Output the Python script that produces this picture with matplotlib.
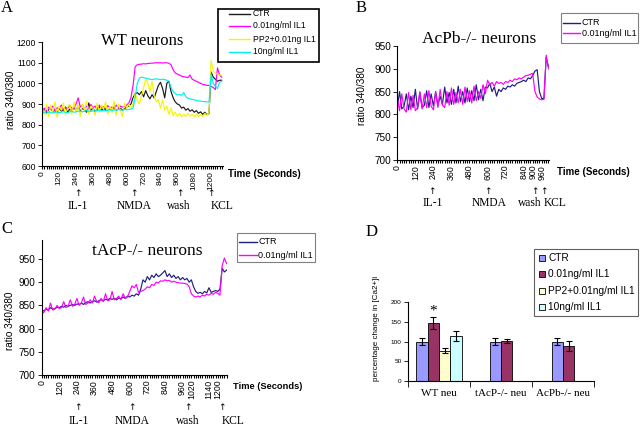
import numpy as np
import matplotlib
matplotlib.use('Agg')
import matplotlib.pyplot as plt
from matplotlib.patches import Rectangle
from matplotlib.lines import Line2D

plt.rcParams['font.family'] = ['Liberation Sans', 'DejaVu Sans']
SERIF = ['Liberation Serif', 'DejaVu Serif']
ARROW_FONT = ['DejaVu Sans']

# ---------------- data ----------------
# Panel A: WT neurons (sampled every 15 s)
t_a = list(range(0, 1276, 15))
ctr_a = [865, 875, 858, 872, 880, 862, 870, 855, 878, 866, 872, 885, 860, 875, 868, 882, 870, 890, 865, 878,
         872, 860, 905, 870, 880, 862, 875, 888, 868, 880, 872, 865, 878, 870, 885, 868, 875, 880, 870, 878,
         885, 890, 900, 930, 950, 955, 945, 960, 935, 965, 940, 925, 945, 930, 960, 990, 1005, 975, 930, 1000,
         1010, 960, 930, 910, 900, 895, 880, 885, 870, 878, 865, 872, 860, 868, 855, 862, 850, 860, 848, 855,
         1055, 1030, 1020, 1010, 1015, 1015]
il1_a = [870, 880, 865, 885, 875, 890, 868, 882, 876, 895, 870, 885, 878, 892, 880, 875, 900, 930, 885, 895,
         880, 890, 875, 898, 882, 890, 870, 895, 880, 888, 876, 892, 882, 885, 878, 895, 880, 890, 885, 888,
         895, 905, 930, 990, 1080, 1090, 1092, 1093, 1095, 1094, 1096, 1097, 1098, 1098, 1100, 1099, 1100, 1098, 1100, 1099,
         1097, 1090, 1065, 1050, 1045, 1040, 1035, 1032, 1030, 1028, 1040, 1020, 1015, 1010, 1005, 1000, 995, 993, 990, 990,
         985, 980, 970, 1075, 1040, 1030]
pp2_a = [880, 850, 900, 840, 895, 860, 910, 835, 890, 870, 905, 845, 885, 900, 850, 910, 865, 895, 840, 900,
         870, 915, 850, 890, 880, 845, 905, 860, 895, 875, 910, 850, 890, 860, 915, 845, 900, 870, 840, 905,
         880, 900, 880, 900, 950, 920, 900, 940, 980, 1020, 1000, 960, 1010, 940, 910, 920, 880, 920, 870, 890,
         850, 880, 845, 860, 840, 855, 838, 850, 840, 855, 842, 850, 838, 852, 840, 850, 838, 855, 845, 860,
         1110, 1060, 1050, 1045, 1040, 1040]
ten_a = [858, 860, 855, 862, 858, 856, 860, 862, 858, 860, 863, 860, 858, 862, 865, 860, 862, 866, 864, 862,
         865, 868, 866, 864, 867, 866, 868, 870, 867, 869, 868, 870, 872, 869, 871, 870, 873, 872, 870, 873,
         872, 874, 875, 880, 930, 1000, 1025, 1030, 1028, 1025, 1022, 1020, 1018, 1020, 1022, 1020, 1018, 1020, 1018, 1015,
         1010, 980, 960, 950, 945, 945, 942, 955, 935, 928, 925, 922, 920, 918, 915, 914, 912, 912, 910, 910,
         1045, 1000, 985, 975, 1005, 1010]
names_a = ['CTR', '0.01ng/ml IL1', 'PP2+0.01ng IL1', '10ng/ml IL1']
xticks_a = [0, 120, 240, 360, 480, 600, 720, 840, 960, 1080, 1200]

# Panel B: AcPb-/- neurons
t_b = list(range(0, 1006, 15))
ctr_b = [815, 850, 812, 818, 845, 810, 840, 815, 855, 812, 848, 815, 820, 852, 815, 845, 818, 850, 820, 840,
         822, 860, 825, 848, 822, 855, 825, 862, 828, 850, 825, 858, 828, 852, 830, 865, 832, 855, 830, 860,
         858, 868, 850, 860, 840, 855, 850, 858, 855, 862, 860, 865, 862, 868, 870, 872, 875, 872, 880, 878,
         885, 895, 898, 850, 835, 835, 925, 905]
il1_b = [835, 808, 845, 812, 805, 848, 810, 842, 808, 815, 850, 812, 845, 815, 852, 818, 810, 848, 815, 855,
         820, 815, 850, 820, 858, 822, 848, 825, 855, 822, 860, 828, 852, 825, 862, 830, 850, 835, 865, 845,
         875, 865, 870, 862, 872, 868, 870, 866, 872, 870, 875, 872, 878, 876, 880, 878, 882, 885, 886, 888,
         890, 850, 838, 834, 832, 833, 930, 900]
names_bc = ['CTR', '0.01ng/ml IL1']
xticks_b = [0, 120, 240, 360, 480, 600, 720, 840, 900, 960]

# Panel C: tAcP-/- neurons
t_c = list(range(0, 1261, 15))
ctr_c = [840, 838, 842, 840, 845, 842, 843, 846, 845, 848, 846, 850, 848, 850, 852, 850, 853, 852, 855, 852,
         856, 858, 855, 858, 860, 857, 860, 862, 860, 863, 862, 865, 863, 865, 862, 866, 864, 868, 865, 870,
         868, 872, 870, 875, 872, 885, 905, 900, 912, 905, 915, 910, 918, 912, 915, 920, 925, 912, 918, 910,
         915, 908, 912, 905, 910, 905, 908, 900, 905, 890, 880, 876, 878, 875, 880, 877, 888, 878, 880, 882,
         880, 885, 930, 922, 926]
il1_c = [832, 835, 845, 838, 855, 840, 842, 850, 843, 845, 858, 845, 848, 862, 848, 852, 865, 850, 855, 868,
         852, 855, 862, 855, 870, 858, 856, 865, 858, 875, 860, 862, 880, 862, 865, 870, 862, 875, 865, 868,
         880, 892, 888, 895, 878, 880, 882, 885, 890, 888, 895, 893, 900, 898, 903, 902, 905, 903, 904, 900,
         902, 900, 899, 898, 898, 897, 896, 890, 875, 870, 868, 870, 868, 872, 870, 874, 872, 876, 874, 878,
         876, 872, 935, 952, 940]
xticks_c = [0, 120, 240, 360, 480, 600, 720, 840, 960, 1020, 1140, 1200]

events = ['IL-1', 'NMDA', 'wash', 'KCL']

# Panel D: percentage change in [Ca2+]i
groups_d = ['WT neu', 'tAcP-/- neu', 'AcPb-/- neu']
names_d = ['CTR', '0.01ng/ml IL1', 'PP2+0.01ng/ml IL1', '10ng/ml IL1']
wt_mean = [100, 147, 77, 114]
wt_err = [10, 15, 7, 13]
tacp_mean = [100, 101]
tacp_err = [9, 6]
acpb_mean = [100, 89]
acpb_err = [10, 12]

# ---------------- layout helpers ----------------
W, H = 640, 428
fig = plt.figure(figsize=(6.4, 4.28), dpi=100)


def add_ax(x0, y0, x1, y1):
    ax = fig.add_axes([x0 / W, 1 - y1 / H, (x1 - x0) / W, (y1 - y0) / H])
    for s in ('top', 'right'):
        ax.spines[s].set_visible(False)
    for s in ('left', 'bottom'):
        ax.spines[s].set_linewidth(0.8)
    ax.patch.set_alpha(0)
    return ax


def ftext(x, y, s, **kw):
    return fig.text(x / W, 1 - y / H, s, **kw)


def legend_lines(box, ys, hx, tx, labels, colors, fs, ec='black', lw=1.0):
    x0, y0, x1, y1 = box
    fig.patches.append(Rectangle((x0 / W, 1 - y1 / H), (x1 - x0) / W, (y1 - y0) / H,
                                 transform=fig.transFigure, fill=True, facecolor='white',
                                 edgecolor=ec, linewidth=lw, zorder=5))
    for y, lab, c in zip(ys, labels, colors):
        fig.lines.append(Line2D([hx[0] / W, hx[1] / W], [1 - y / H, 1 - y / H],
                                transform=fig.transFigure, color=c, linewidth=1.0, zorder=6))
        ftext(tx, y, lab, fontsize=fs, ha='left', va='center', zorder=6)


def trace_axis(ax, t, xticks, ylo, yhi, ystep, ylab_fs, xlab_fs):
    ax.set_yticks(list(range(ylo, yhi + 1, ystep)))
    ax.set_xticks(xticks)
    ax.set_xticklabels([str(v) for v in xticks], rotation=90)
    ax.set_xticks(t, minor=True)
    ax.tick_params(axis='y', direction='out', length=3, width=0.6, labelsize=ylab_fs, pad=1.5)
    ax.tick_params(axis='x', which='major', direction='out', length=2.5, width=0.8,
                   labelsize=xlab_fs, pad=1)
    ax.tick_params(axis='x', which='minor', direction='out', length=2.5, width=0.8)


def event_marks(xs_arrow, xs_label, y_arrow, y_label):
    for xa, xl, ev in zip(xs_arrow, xs_label, events):
        ftext(xa, y_arrow, '\u2191', fontsize=6.5, family=ARROW_FONT, ha='center', va='center')
        ftext(xl, y_label, ev, fontsize=8.3, family=SERIF, ha='center', va='center')


# ---------------- Panel A ----------------
axA = add_ax(42.3, 42, 223.1, 166)
cols_a = ['#1a1a1a', '#ff00ff', '#f5f500', '#00f0f0']
for vals, c in zip([ctr_a, il1_a, pp2_a, ten_a], cols_a):
    axA.plot(t_a, vals, color=c, linewidth=0.85)
axA.set_xlim(0, 1285)
axA.set_ylim(600, 1200)
trace_axis(axA, t_a, xticks_a, 600, 1200, 100, 6.2, 6.0)
ftext(7, 8, 'A', fontsize=12, family=SERIF, ha='center', va='center')
ftext(142, 41, 'WT neurons', fontsize=12, family=SERIF, ha='center', va='center')
ftext(11, 100, 'ratio 340/380', fontsize=7.2, rotation=90, ha='center', va='center')
ftext(228, 174, 'Time (Seconds)', fontsize=7, weight='bold', ha='left', va='center')
event_marks([77.7, 133.7, 180, 211], [77.5, 134, 179, 221.7], 194, 206)
legend_lines((218, 9, 319, 62), [14, 25.5, 39, 51.7], (229, 250), 252.7,
             names_a, cols_a, 6.2, ec='black', lw=1.2)

# ---------------- Panel B ----------------
axB = add_ax(397.3, 46, 549.2, 160)
cols_bc = ['#1f1f80', '#ff00ff']
for vals, c in zip([ctr_b, il1_b], cols_bc):
    axB.plot(t_b, vals, color=c, linewidth=0.85)
axB.set_xlim(0, 1010)
axB.set_ylim(700, 950)
trace_axis(axB, t_b, xticks_b, 700, 950, 50, 7.2, 6.3)
ftext(361, 8, 'B', fontsize=12, family=SERIF, ha='center', va='center')
ftext(479, 39, 'AcPb-/- neurons', fontsize=12.5, family=SERIF, ha='center', va='center')
ftext(362, 96, 'ratio 340/380', fontsize=7.2, rotation=90, ha='center', va='center')
ftext(557, 172, 'Time (Seconds)', fontsize=7, weight='bold', ha='left', va='center')
event_marks([432.3, 488, 535, 544], [432.5, 489, 530, 554.7], 191.5, 202.7)
legend_lines((560.7, 13.3, 638.3, 42.7), [22.7, 33.3], (563, 580), 581.7,
             names_bc, cols_bc, 6.5, ec='#808080', lw=0.8)

# ---------------- Panel C ----------------
axC = add_ax(41.7, 240.4, 227.3, 375)
for vals, c in zip([ctr_c, il1_c], cols_bc):
    axC.plot(t_c, vals, color=c, linewidth=0.85)
axC.set_xlim(0, 1265)
axC.set_ylim(700, 990)
trace_axis(axC, t_c, xticks_c, 700, 950, 50, 7.2, 6.3)
ftext(7, 229, 'C', fontsize=12, family=SERIF, ha='center', va='center')
ftext(147.5, 251, 'tAcP-/- neurons', fontsize=12.5, family=SERIF, ha='center', va='center')
ftext(10, 321, 'ratio 340/380', fontsize=7.2, rotation=90, ha='center', va='center')
ftext(233.3, 386.7, 'Time (Seconds)', fontsize=6.7, weight='bold', ha='left', va='center')
event_marks([78.3, 131.7, 188.3, 221.7], [78.3, 131.7, 187.7, 232.8], 408, 420.7)
legend_lines((236.7, 232.7, 315, 261.7), [241.7, 255], (239, 256.7), 258.3,
             names_bc, cols_bc, 6.5, ec='#808080', lw=0.8)

# ---------------- Panel D ----------------
axD = add_ax(408, 302, 594, 381)
cols_d = ['#9999ff', '#993366', '#ffffcc', '#ccffff']
bw = 0.185
for g, (means, errs) in enumerate([(wt_mean, wt_err), (tacp_mean, tacp_err), (acpb_mean, acpb_err)]):
    n = len(means)
    for k in range(n):
        xk = g + (k - (n - 1) / 2) * bw
        axD.bar(xk, means[k], width=bw, color=cols_d[k], edgecolor='black', linewidth=0.6, zorder=2)
        axD.errorbar(xk, means[k], yerr=errs[k], color='black', linewidth=0.8,
                     capsize=2, capthick=0.8, zorder=3)
axD.text(0 - 0.5 * bw, 178, '*', fontsize=11, family=SERIF, ha='center', va='center')
axD.set_xlim(-0.5, 2.5)
axD.set_ylim(0, 200)
axD.set_yticks([0, 50, 100, 150, 200])
axD.set_xticks([0, 1, 2])
axD.set_xticklabels(groups_d, fontsize=8, family=SERIF)
axD.set_xticks([-0.5, 0.5, 1.5, 2.5], minor=True)
axD.tick_params(axis='x', which='major', length=0, pad=6)
axD.tick_params(axis='x', which='minor', length=4, width=0.6, direction='out')
axD.tick_params(axis='y', length=3, width=0.6, direction='out', labelsize=4.6, pad=1.5)
ftext(371.7, 231.7, 'D', fontsize=12, family=SERIF, ha='center', va='center')
ftext(376.7, 328, 'percentage change in [Ca2+]i', fontsize=5.8, rotation=90, ha='center', va='center')

# legend D
x0, y0, x1, y1 = 534.3, 249.3, 638.3, 316
fig.patches.append(Rectangle((x0 / W, 1 - y1 / H), (x1 - x0) / W, (y1 - y0) / H,
                             transform=fig.transFigure, facecolor='white', edgecolor='#606060',
                             linewidth=0.8, zorder=5))
for y, lab, c in zip([258.3, 274.3, 290.7, 306.7], names_d, cols_d):
    fig.patches.append(Rectangle((539 / W, 1 - (y + 3) / H), 6 / W, 6 / H, transform=fig.transFigure,
                                 facecolor=c, edgecolor='black', linewidth=0.6, zorder=6))
    ftext(548.3, y, lab, fontsize=7.3, ha='left', va='center', zorder=6)

fig.savefig('out.png', dpi=100)
